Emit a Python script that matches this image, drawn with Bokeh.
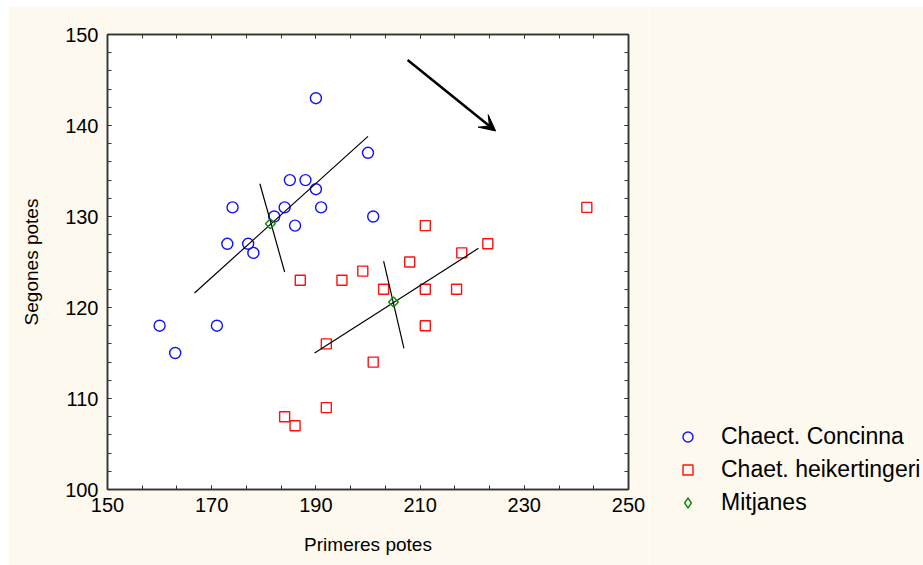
import math
from bokeh.plotting import figure
from bokeh.layouts import row
from bokeh.models import (LinearAxis, FixedTicker, Range1d, Legend, LegendItem,
                          Arrow, VeeHead, ColumnDataSource)
from bokeh.embed import file_html
from bokeh.resources import INLINE

# ---- data ----
concinna_x = [160, 163, 171, 173, 174, 177, 178, 182, 184, 185, 186, 188, 190, 190, 191, 200, 201]
concinna_y = [118, 115, 118, 127, 131, 127, 126, 130, 131, 134, 129, 134, 133, 143, 131, 137, 130]

heik_x = [211, 223, 218, 208, 199, 187, 195, 203, 211, 217, 211, 192, 201, 192, 184, 186, 242]
heik_y = [129, 127, 126, 125, 124, 123, 123, 122, 122, 122, 118, 116, 114, 109, 108, 107, 131]

mean_x = [181.25, 204.9]
mean_y = [129.2, 120.6]

# principal axes of each group (start / end points)
axis_x0 = [166.7, 179.25, 189.75, 203.0]
axis_y0 = [121.6, 133.6, 115.0, 125.1]
axis_x1 = [200.0, 184.0, 221.2, 206.9]
axis_y1 = [138.8, 123.9, 126.5, 115.5]

arrow_start = (207.6, 147.2)
arrow_end = (224.5, 139.4)

x_ticks = [150, 170, 190, 210, 230, 250]
y_ticks = [100, 110, 120, 130, 140, 150]
x_minor = [150 + k * 20 / 3 for k in range(16)]
y_minor = [100 + 2 * k for k in range(26)]

series_labels = ["Chaect. Concinna", "Chaet. heikertingeri", "Mitjanes"]

FONT = "Liberation Sans"
BG = "#fdf9ee"
AX = "#333333"
BLUE = "#1010ff"
RED = "#ff1010"
GREEN = "#0a8a0a"

p = figure(width=640, height=559, x_range=Range1d(150, 250), y_range=Range1d(100, 150),
           output_backend="svg", toolbar_location=None,
           min_border_left=99, min_border_right=20, min_border_top=28, min_border_bottom=76,
           background_fill_color="white", border_fill_color=BG,
           margin=(6, 0, 0, 8), x_axis_type=None, y_axis_type=None)
p.xgrid.visible = False
p.ygrid.visible = False
p.outline_line_color = AX
p.outline_line_width = 1.5


def style_axis(ax, ticks, labels=True):
    ax.axis_line_color = AX
    ax.axis_line_width = 1.5
    ax.major_tick_in = 4
    ax.major_tick_out = 0
    ax.minor_tick_in = 4
    ax.minor_tick_out = 0
    ax.major_tick_line_color = AX
    ax.minor_tick_line_color = AX
    ax.major_label_text_font = FONT
    ax.major_label_text_color = "black"
    ax.major_label_text_font_size = "20px"
    if not labels:
        ax.major_label_overrides = {t: "" for t in ticks}
        ax.major_label_standoff = 0


xb = LinearAxis(ticker=FixedTicker(ticks=x_ticks, minor_ticks=x_minor),
                axis_label="Primeres potes")
style_axis(xb, x_ticks)
xb.major_label_standoff = 8
xb.axis_label_standoff = 19
xb.axis_label_text_font = FONT
xb.axis_label_text_font_size = "19px"
xb.axis_label_text_font_style = "normal"
xb.axis_label_text_color = "black"
p.add_layout(xb, "below")

yl = LinearAxis(ticker=FixedTicker(ticks=y_ticks, minor_ticks=y_minor),
                axis_label="Segones potes")
style_axis(yl, y_ticks)
yl.major_label_standoff = 9
yl.axis_label_standoff = 20
yl.axis_label_text_font = FONT
yl.axis_label_text_font_size = "19px"
yl.axis_label_text_font_style = "normal"
yl.axis_label_text_color = "black"
p.add_layout(yl, "left")

xt = LinearAxis(ticker=FixedTicker(ticks=x_ticks, minor_ticks=x_minor))
style_axis(xt, x_ticks, labels=False)
p.add_layout(xt, "above")

yr = LinearAxis(ticker=FixedTicker(ticks=y_ticks, minor_ticks=y_minor))
style_axis(yr, y_ticks, labels=False)
p.add_layout(yr, "right")

p.scatter(concinna_x, concinna_y, marker="circle", size=11, fill_color=None,
          line_color=BLUE, line_width=1.4)
p.scatter(heik_x, heik_y, marker="square", size=10, fill_color=None,
          line_color=RED, line_width=1.4)

seg = ColumnDataSource(dict(x0=axis_x0, y0=axis_y0, x1=axis_x1, y1=axis_y1))
p.segment("x0", "y0", "x1", "y1", source=seg, line_color="black", line_width=1.2)

p.scatter(mean_x, mean_y, marker="square", angle=math.pi / 4, size=7, fill_color=None,
          line_color=GREEN, line_width=1.4)

p.add_layout(Arrow(end=VeeHead(size=16, fill_color="black", line_color="black"),
                   x_start=arrow_start[0], y_start=arrow_start[1],
                   x_end=arrow_end[0], y_end=arrow_end[1],
                   line_width=2.5, line_color="black"))

# ---- legend panel (separate figure to the right of the plot) ----
q = figure(width=275, height=559, x_range=Range1d(0, 1), y_range=Range1d(0, 1),
           output_backend="svg", toolbar_location=None,
           min_border=0, background_fill_color=BG, border_fill_color=BG,
           margin=(6, 0, 0, 0), x_axis_type=None, y_axis_type=None)
q.frame_align = False
q.xgrid.visible = False
q.ygrid.visible = False
q.outline_line_color = None

# legend key glyphs (dummy points placed outside the visible range)
l1 = q.scatter([5], [5], marker="circle", size=11, fill_color=None, line_color=BLUE, line_width=1.4)
l2 = q.scatter([5], [5], marker="square", size=10, fill_color=None, line_color=RED, line_width=1.4)
l3 = q.scatter([5], [5], marker="diamond", size=12, fill_color=None,
               line_color=GREEN, line_width=1.4)

legend = Legend(items=[LegendItem(label=series_labels[0], renderers=[l1]),
                       LegendItem(label=series_labels[1], renderers=[l2]),
                       LegendItem(label=series_labels[2], renderers=[l3])],
                location=(27, 49), padding=0, margin=0, spacing=6,
                glyph_width=25, glyph_height=25, label_standoff=21,
                label_text_font=FONT, label_text_font_size="23px",
                label_text_color="black", background_fill_alpha=0,
                border_line_alpha=0)
q.add_layout(legend)

layout = row(p, q)
open("out.html", "w").write(file_html(layout, INLINE))
